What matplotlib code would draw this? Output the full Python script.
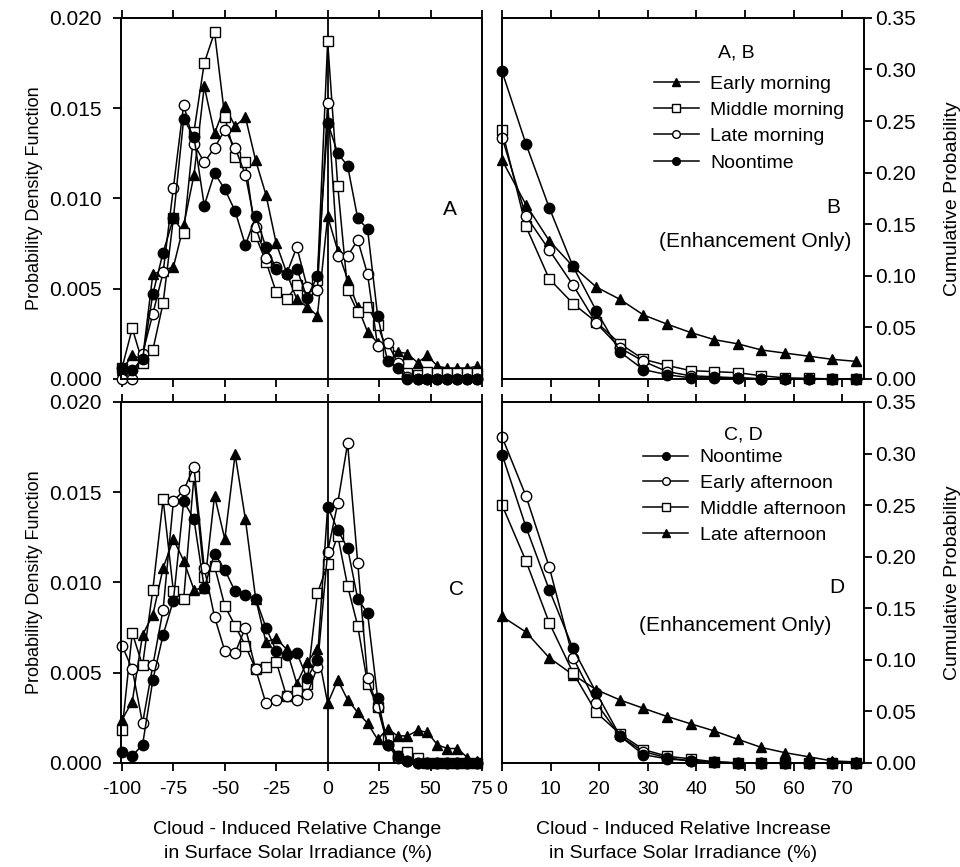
import numpy as np
import matplotlib.pyplot as plt
from matplotlib.lines import Line2D

plt.rcParams['font.family'] = ['Liberation Sans', 'DejaVu Sans']
plt.rcParams['axes.unicode_minus'] = False

# x positions of the bins (%): cloud-induced change, and increase only
x_change = [-100, -95, -90, -85, -80, -75, -70, -65, -60, -55,
            -50, -45, -40, -35, -30, -25, -20, -15, -10, -5,
            0, 4.9, 9.7, 14.6, 19.4, 24.3, 29.1, 34.0, 38.8, 43.7,
            48.5, 53.4, 58.2, 63.1, 67.9, 72.8]
x_increase = [0, 4.9, 9.7, 14.6, 19.4, 24.3, 29.1, 34.0, 38.8, 43.7,
              48.5, 53.4, 58.2, 63.1, 67.9, 72.8]

# Panel A: probability density function, morning
pdf_early_morning = [0.0005, 0.0013, 0.0011, 0.0058, 0.0060, 0.0062, 0.0085, 0.0113, 0.0162, 0.0136,
                     0.0151, 0.0140, 0.0145, 0.0121, 0.0102, 0.0075, 0.0059, 0.0044, 0.0040, 0.0035,
                     0.0090, 0.0071, 0.0055, 0.0040, 0.0026, 0.0020, 0.0016, 0.0015, 0.0014, 0.0009,
                     0.0013, 0.0007, 0.0006, 0.0006, 0.0006, 0.0007]
pdf_middle_morning = [0.0006, 0.0028, 0.0009, 0.0016, 0.0042, 0.0089, 0.0081, 0.0137, 0.0175, 0.0192,
                      0.0145, 0.0123, 0.0120, 0.0079, 0.0065, 0.0048, 0.0044, 0.0052, 0.0048, 0.0055,
                      0.0187, 0.0107, 0.0049, 0.0037, 0.0040, 0.0030, 0.0015, 0.0010, 0.0003, 0.0002,
                      0.0004, 0.0003, 0.0003, 0.0003, 0.0003, 0.0003]
pdf_late_morning = [0.0000, 0.0000, 0.0014, 0.0036, 0.0059, 0.0106, 0.0152, 0.0130, 0.0120, 0.0128,
                    0.0138, 0.0128, 0.0113, 0.0084, 0.0067, 0.0062, 0.0058, 0.0073, 0.0051, 0.0049,
                    0.0153, 0.0068, 0.0068, 0.0077, 0.0058, 0.0018, 0.0020, 0.0009, 0.0001, 0.0000,
                    0.0000, 0.0000, 0.0000, 0.0000, 0.0000, 0.0000]
pdf_noon_a = [0.0006, 0.0005, 0.0011, 0.0047, 0.0070, 0.0089, 0.0144, 0.0134, 0.0096, 0.0114,
              0.0105, 0.0093, 0.0074, 0.0090, 0.0073, 0.0061, 0.0058, 0.0061, 0.0045, 0.0057,
              0.0142, 0.0125, 0.0118, 0.0089, 0.0083, 0.0035, 0.0010, 0.0006, 0.0000, 0.0000,
              0.0000, 0.0000, 0.0000, 0.0000, 0.0000, 0.0000]

# Panel B: cumulative probability (enhancement only), morning
cum_early_morning = [0.212, 0.169, 0.134, 0.109, 0.089, 0.077, 0.062, 0.053, 0.045, 0.038,
                     0.034, 0.028, 0.025, 0.022, 0.019, 0.017]
cum_middle_morning = [0.241, 0.148, 0.097, 0.073, 0.055, 0.034, 0.019, 0.013, 0.008, 0.007,
                      0.006, 0.003, 0.001, 0.0005, 0.0, 0.0]
cum_late_morning = [0.234, 0.158, 0.125, 0.091, 0.054, 0.030, 0.017, 0.007, 0.003, 0.002,
                    0.001, 0.0, 0.0, 0.0, 0.0, 0.0]
cum_noon_b = [0.298, 0.228, 0.166, 0.109, 0.066, 0.026, 0.009, 0.004, 0.001, 0.001,
              0.001, 0.0, 0.0, 0.0, 0.0, 0.0]

# Panel C: probability density function, afternoon
pdf_noon_c = [0.0006, 0.0004, 0.0010, 0.0046, 0.0071, 0.0090, 0.0145, 0.0135, 0.0097, 0.0116,
              0.0107, 0.0095, 0.0093, 0.0091, 0.0075, 0.0062, 0.0060, 0.0061, 0.0047, 0.0057,
              0.0142, 0.0129, 0.0119, 0.0091, 0.0083, 0.0036, 0.0010, 0.0004, 0.0001, 0.0000,
              0.0000, 0.0000, 0.0000, 0.0000, 0.0000, 0.0000]
pdf_early_afternoon = [0.0065, 0.0052, 0.0022, 0.0054, 0.0085, 0.0145, 0.0151, 0.0164, 0.0108, 0.0081,
                       0.0062, 0.0061, 0.0075, 0.0052, 0.0033, 0.0035, 0.0037, 0.0035, 0.0038, 0.0053,
                       0.0117, 0.0144, 0.0177, 0.0111, 0.0047, 0.0031, 0.0010, 0.0003, 0.0001, 0.0000,
                       0.0000, 0.0000, 0.0000, 0.0000, 0.0000, 0.0000]
pdf_middle_afternoon = [0.0018, 0.0072, 0.0054, 0.0096, 0.0146, 0.0095, 0.0091, 0.0159, 0.0103, 0.0109,
                        0.0087, 0.0076, 0.0065, 0.0052, 0.0053, 0.0056, 0.0037, 0.0040, 0.0044, 0.0094,
                        0.0110, 0.0126, 0.0098, 0.0076, 0.0044, 0.0031, 0.0013, 0.0004, 0.0006, 0.0003,
                        0.0000, 0.0000, 0.0000, 0.0000, 0.0000, 0.0000]
pdf_late_afternoon = [0.0024, 0.0034, 0.0071, 0.0082, 0.0108, 0.0124, 0.0112, 0.0096, 0.0097, 0.0148,
                      0.0124, 0.0171, 0.0135, 0.0091, 0.0067, 0.0069, 0.0063, 0.0044, 0.0056, 0.0063,
                      0.0033, 0.0046, 0.0035, 0.0028, 0.0022, 0.0013, 0.0019, 0.0015, 0.0015, 0.0018,
                      0.0017, 0.0010, 0.0008, 0.0008, 0.0003, 0.0001]

# Panel D: cumulative probability (enhancement only), afternoon
cum_noon_d = [0.299, 0.229, 0.168, 0.111, 0.068, 0.026, 0.008, 0.004, 0.002, 0.001,
              0.0, 0.0, 0.0, 0.0, 0.0, 0.0]
cum_early_afternoon = [0.316, 0.259, 0.190, 0.102, 0.058, 0.026, 0.011, 0.005, 0.002, 0.001,
                       0.0, 0.0, 0.0, 0.0, 0.0, 0.0]
cum_middle_afternoon = [0.250, 0.196, 0.136, 0.0875, 0.049, 0.028, 0.013, 0.0065, 0.004, 0.001,
                        0.0, 0.0, 0.0, 0.0, 0.0, 0.0]
cum_late_afternoon = [0.142, 0.127, 0.102, 0.0855, 0.071, 0.061, 0.053, 0.045, 0.038, 0.031,
                      0.023, 0.015, 0.010, 0.006, 0.002, 0.001]

# marker styles
tri = dict(marker='^', mfc='k', ms=7.5)
sq = dict(marker='s', mfc='w', ms=6.5)
circ = dict(marker='o', mfc='w', ms=7.5)
dot = dict(marker='o', mfc='k', ms=7.5)
common = dict(color='k', mec='k', mew=1.0, lw=1.1)

fig = plt.figure(figsize=(9.6, 8.67), dpi=100)
axA = fig.add_axes([0.126, 0.563, 0.376, 0.4164])
axB = fig.add_axes([0.523, 0.563, 0.377, 0.4164])
axC = fig.add_axes([0.126, 0.120, 0.376, 0.4164])
axD = fig.add_axes([0.523, 0.120, 0.377, 0.4164])

# PDF panels
for ax, series in [(axA, [(pdf_early_morning, tri), (pdf_middle_morning, sq),
                          (pdf_late_morning, circ), (pdf_noon_a, dot)]),
                   (axC, [(pdf_late_afternoon, tri), (pdf_middle_afternoon, sq),
                          (pdf_early_afternoon, circ), (pdf_noon_c, dot)])]:
    ax.axvline(0, color='k', lw=1.3, zorder=1)
    for y, st in series:
        ax.plot(x_change, y, **st, **common, clip_on=False)
    ax.set_xlim(-100.5, 75)
    ax.set_ylim(0, 0.020)
    ax.set_xticks([-100, -75, -50, -25, 0, 25, 50, 75])
    ax.set_yticks([0, 0.005, 0.010, 0.015, 0.020])
    ax.yaxis.set_major_formatter(plt.FormatStrFormatter('%.3f'))
    ax.tick_params(direction='out', length=6, width=1.3, top=True, labelsize=15)
    ax.tick_params(axis='y', pad=8)
    ax.tick_params(axis='x', labelsize=14, pad=7)
    ax.set_ylabel('Probability Density Function', fontsize=13, labelpad=4)

axA.tick_params(axis='x', labelbottom=False)

# CDF panels
for ax, series in [(axB, [(cum_early_morning, tri), (cum_middle_morning, sq),
                          (cum_late_morning, circ), (cum_noon_b, dot)]),
                   (axD, [(cum_late_afternoon, tri), (cum_middle_afternoon, sq),
                          (cum_early_afternoon, circ), (cum_noon_d, dot)])]:
    for y, st in series:
        ax.plot(x_increase, y, **st, **common, clip_on=False)
    ax.set_xlim(0, 74.5)
    ax.set_ylim(0, 0.35)
    ax.set_xticks([0, 10, 20, 30, 40, 50, 60, 70])
    ax.set_yticks(np.arange(0, 0.36, 0.05))
    ax.yaxis.set_major_formatter(plt.FormatStrFormatter('%.2f'))
    ax.yaxis.tick_right()
    ax.yaxis.set_label_position('right')
    ax.tick_params(direction='out', length=6, width=1.3, top=True, labelsize=15)
    ax.tick_params(axis='y', pad=2)
    ax.tick_params(axis='x', labelsize=14, pad=7)
    ax.set_ylabel('Cumulative Probability', fontsize=14, labelpad=20)

axB.tick_params(axis='x', labelbottom=False)

for ax in (axA, axB, axC, axD):
    for s in ax.spines.values():
        s.set_linewidth(1.4)

# panel letters and notes
axA.text(0.91, 0.47, 'A', transform=axA.transAxes, fontsize=15, ha='center', va='center')
axC.text(0.93, 0.48, 'C', transform=axC.transAxes, fontsize=15, ha='center', va='center')
axB.text(0.915, 0.476, 'B', transform=axB.transAxes, fontsize=15, ha='center', va='center')
axB.text(0.70, 0.38, '(Enhancement Only)', transform=axB.transAxes, fontsize=15, ha='center', va='center')
axD.text(0.925, 0.485, 'D', transform=axD.transAxes, fontsize=15, ha='center', va='center')
axD.text(0.645, 0.382, '(Enhancement Only)', transform=axD.transAxes, fontsize=15, ha='center', va='center')
axB.text(0.646, 0.903, 'A, B', transform=axB.transAxes, fontsize=14, ha='center', va='center')
axD.text(0.666, 0.909, 'C, D', transform=axD.transAxes, fontsize=14, ha='center', va='center')

# legends
def handle(st):
    return Line2D([], [], **{**st, 'ms': 5.5}, **common)

axB.legend([handle(tri), handle(sq), handle(circ), handle(dot)],
           ['Early morning', 'Middle morning', 'Late morning', 'Noontime'],
           fontsize=14, frameon=False,
           loc='upper left', bbox_to_anchor=(0.42, 0.842), borderpad=0,
           borderaxespad=0, handlelength=2.3, handletextpad=0.6, labelspacing=0.45)
axD.legend([handle(dot), handle(circ), handle(sq), handle(tri)],
           ['Noontime', 'Early afternoon', 'Middle afternoon', 'Late afternoon'],
           fontsize=14, frameon=False,
           loc='upper left', bbox_to_anchor=(0.39, 0.87), borderpad=0,
           borderaxespad=0, handlelength=2.3, handletextpad=0.6, labelspacing=0.42)

# x axis titles
for xc, first in [(0.31, 'Cloud - Induced Relative Change'),
                  (0.712, 'Cloud - Induced Relative Increase')]:
    fig.text(xc, 1 - 830 / 867, first, ha='center', va='center', fontsize=14)
    fig.text(xc, 1 - 854 / 867, 'in Surface Solar Irradiance (%)', ha='center', va='center', fontsize=14)

fig.savefig('out.png', dpi=100)
